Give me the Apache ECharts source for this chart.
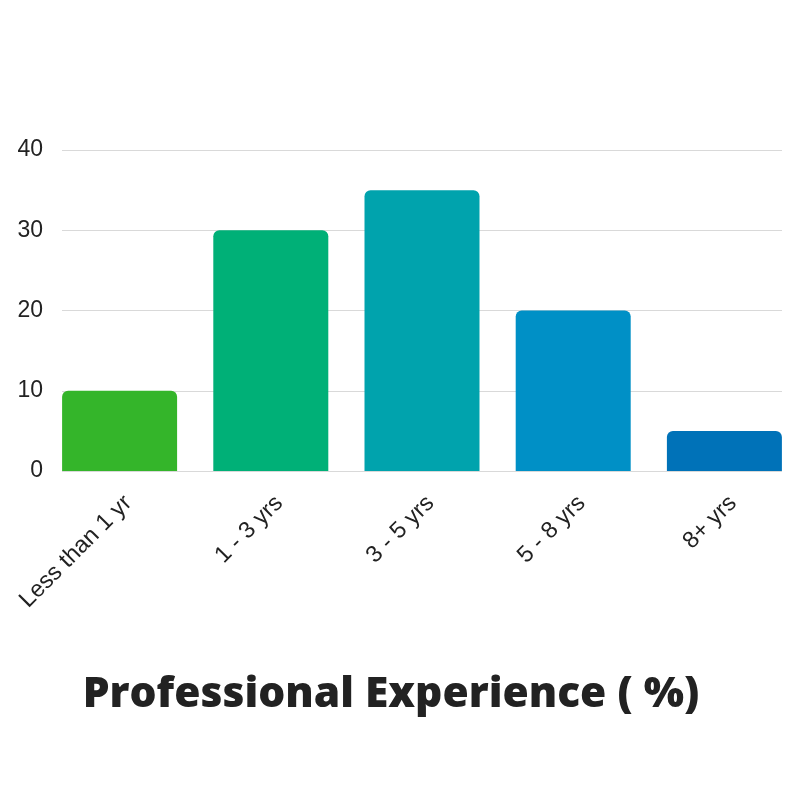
<!DOCTYPE html>
<html>
<head>
<meta charset="utf-8">
<script src="https://cdn.jsdelivr.net/npm/echarts@6/dist/echarts.min.js"></script>
<style>html,body{margin:0;padding:0;background:#fff}#c{width:800px;height:800px}</style>
</head>
<body>
<div id="c"></div>
<script>
const categories = ["Less than 1 yr", "1 - 3 yrs", "3 - 5 yrs", "5 - 8 yrs", "8+ yrs"];
const values = [10, 30, 35, 20, 5];
const barColors = ["#34b52a", "#00b077", "#00a3ad", "#0090c6", "#0072b8"];
const yTicks = [0, 10, 20, 30, 40];
const titleText = "Professional Experience ( %)";

const chart = echarts.init(document.getElementById('c'), null, {renderer: 'canvas'});
chart.setOption({
  animation: false,
  backgroundColor: '#fff',
  title: {
    text: titleText,
    left: 386, top: 668, textAlign: 'center',
    textStyle: {fontFamily: 'Open Sans', fontWeight: 800, fontSize: 42.5, color: '#222'}
  },
  grid: [
    {left: 44, right: 0, top: 150, bottom: 329},
    {left: 62, right: 18, top: 150, bottom: 329}
  ],
  xAxis: [
    {type: 'category', gridIndex: 0, data: categories,
     axisLine: {show: false}, axisTick: {show: false},
     axisLabel: {rotate: 45, fontSize: 23.5, color: '#222', fontFamily: 'Liberation Sans',
                 margin: 20, interval: 0, align: 'right', verticalAlign: 'top'}},
    {type: 'category', gridIndex: 1, data: categories, show: false}
  ],
  yAxis: [
    {type: 'value', gridIndex: 0, min: 0, max: 40, interval: 10, show: false, splitLine: {show: false}},
    {type: 'value', gridIndex: 1, min: yTicks[0], max: yTicks[yTicks.length-1], interval: 10,
     axisLine: {show: false}, axisTick: {show: false},
     axisLabel: {fontSize: 23, color: '#222', fontFamily: 'Liberation Sans', margin: 19},
     splitLine: {lineStyle: {color: '#d9d9d9', width: 1}}}
  ],
  series: [{
    type: 'bar', xAxisIndex: 0, yAxisIndex: 0,
    data: values.map((v, i) => ({value: v, itemStyle: {color: barColors[i]}})),
    barWidth: 115,
    itemStyle: {borderRadius: [6, 6, 0, 0]}
  }]
});
</script>
</body>
</html>
